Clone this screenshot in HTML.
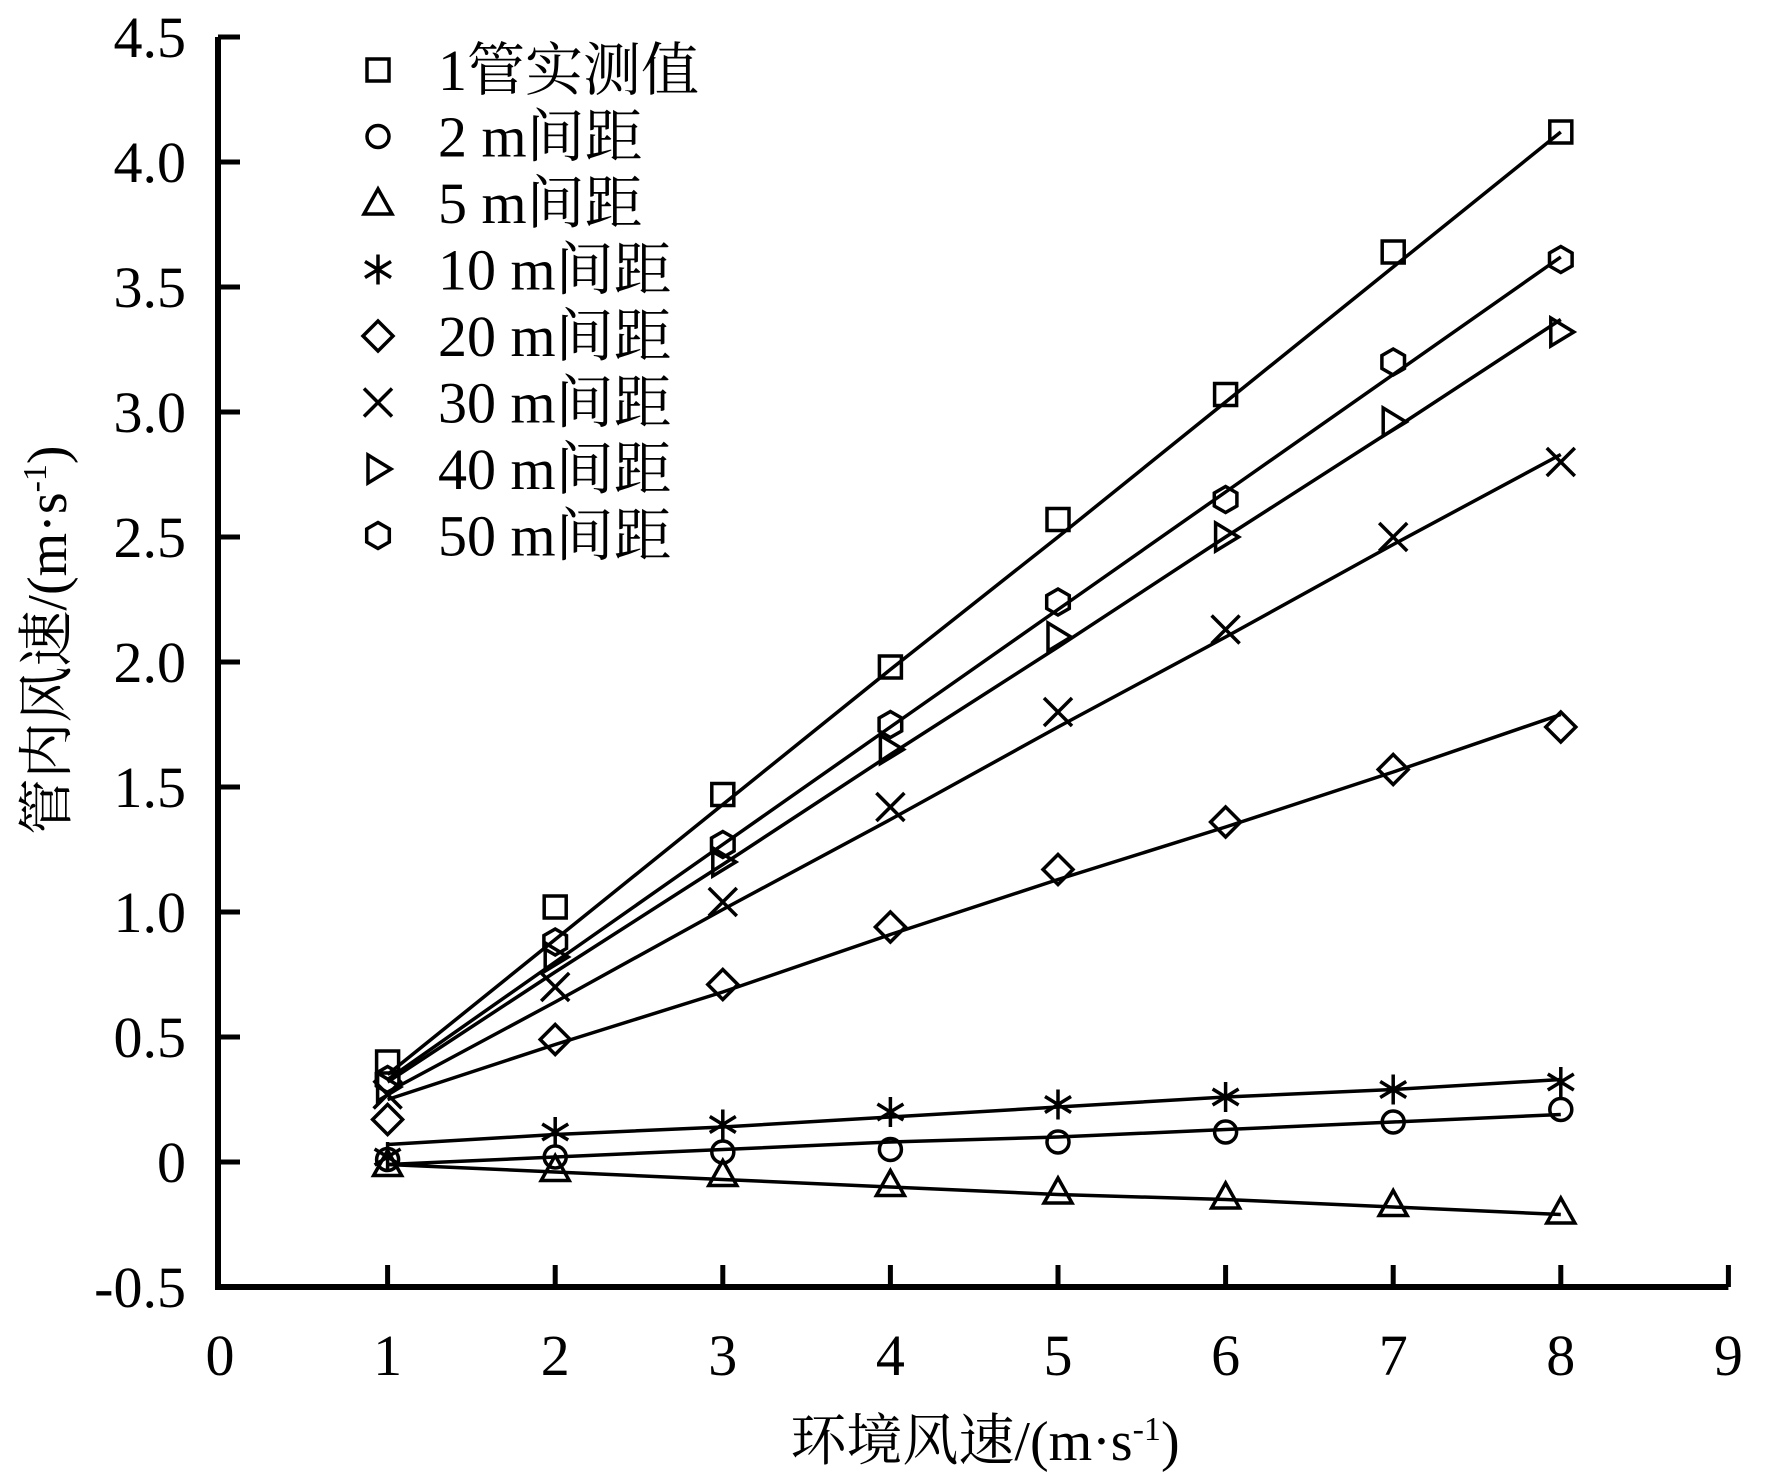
<!DOCTYPE html>
<html><head><meta charset="utf-8"><style>
html,body{margin:0;padding:0;background:#fff}
svg{display:block}
text{font-family:"Liberation Serif","Noto Serif CJK SC","Noto Sans CJK SC",serif;fill:#000}
</style></head><body>
<svg id="chart" width="1772" height="1477" viewBox="0 0 1772 1477" xmlns="http://www.w3.org/2000/svg">
<g id="axes"></g>
<g id="lines"></g>
<g id="marks"></g>
<g id="legend"></g>
<text x="0" y="0" font-size="56" text-anchor="middle" transform="translate(66,640) rotate(-90)">管内风速/(m·s<tspan font-size="34" dy="-20">-1</tspan><tspan dy="20">)</tspan></text>
<text x="985" y="1460" font-size="56" text-anchor="middle">环境风速/(m·s<tspan font-size="34" dy="-20">-1</tspan><tspan dy="20">)</tspan></text>
</svg>
<script>
const xCats=[1,2,3,4,5,6,7,8];
const xTicks=[0,1,2,3,4,5,6,7,8,9];
const yTicks=[-0.5,0,0.5,1.0,1.5,2.0,2.5,3.0,3.5,4.0,4.5];
const yTickLabels=["-0.5","0","0.5","1.0","1.5","2.0","2.5","3.0","3.5","4.0","4.5"];
const seriesNames=["1管实测值","2 m间距","5 m间距","10 m间距","20 m间距","30 m间距","40 m间距","50 m间距"];
const seriesMarkers=["square","circle","triangle","star","diamond","cross","tright","hexagon"];
const s1=[0.40,1.02,1.47,1.98,2.57,3.07,3.64,4.12];
const s2=[0.01,0.02,0.04,0.05,0.08,0.12,0.16,0.21];
const s5=[-0.01,-0.03,-0.05,-0.09,-0.12,-0.14,-0.17,-0.20];
const s10=[0.02,0.12,0.15,0.20,0.23,0.26,0.29,0.32];
const s20=[0.17,0.49,0.71,0.94,1.17,1.36,1.57,1.74];
const s30=[0.27,0.70,1.04,1.42,1.80,2.13,2.50,2.80];
const s40=[0.30,0.82,1.20,1.65,2.10,2.50,2.96,3.32];
const s50=[0.33,0.88,1.27,1.75,2.24,2.65,3.20,3.61];
const f1=[0.35,0.89,1.43,1.97,2.50,3.04,3.58,4.12];
const f2=[-0.01,0.02,0.05,0.08,0.10,0.13,0.16,0.19];
const f5=[-0.01,-0.04,-0.07,-0.10,-0.13,-0.15,-0.18,-0.21];
const f10=[0.07,0.11,0.14,0.18,0.22,0.26,0.29,0.33];
const f20=[0.25,0.47,0.68,0.91,1.13,1.34,1.56,1.79];
const f30=[0.28,0.64,1.01,1.37,1.74,2.10,2.47,2.83];
const f40=[0.32,0.76,1.19,1.63,2.06,2.50,2.93,3.37];
const f50=[0.33,0.80,1.27,1.74,2.21,2.68,3.15,3.62];
const seriesVals=[s1,s2,s5,s10,s20,s30,s40,s50];
const seriesFits=[f1,f2,f5,f10,f20,f30,f40,f50];

const NS="http://www.w3.org/2000/svg";
const X0=220, XU=167.6, Y0=1162, YU=250;
function sx(v){return X0+v*XU;}
function sy(v){return Y0-v*YU;}
function mk(tag,attrs,parent){const e=document.createElementNS(NS,tag);for(const k in attrs)e.setAttribute(k,attrs[k]);parent.appendChild(e);return e;}

const axes=document.getElementById('axes');
const yb=sy(-0.5), yt=sy(4.5), xl=218, xr=sx(9);
let e=mk('path',{d:`M${xl} ${yt} V${yb} H${xr}`,fill:'none',stroke:'#000','stroke-width':6},axes);


yTicks.forEach((v,i)=>{
  const t=mk('line',{x1:xl,x2:xl+22,y1:sy(v),y2:sy(v),stroke:'#000','stroke-width':5},axes);
  
  
  const l=mk('text',{x:186,y:sy(v)+20,'font-size':58,'text-anchor':'end'},axes);
  l.textContent=yTickLabels[i];
  
  
});
xTicks.forEach(v=>{
  if(v>0){const t=mk('line',{x1:sx(v),x2:sx(v),y1:yb,y2:yb-22,stroke:'#000','stroke-width':5},axes);
  
  }
  const l=mk('text',{x:sx(v),y:1375,'font-size':58,'text-anchor':'middle'},axes);
  l.textContent=String(v);
  
  
});

function marker(type,cx,cy,parent){
  const st={fill:'none',stroke:'#000','stroke-width':3.5};
  let m;const r=12;
  if(type==='square')m=mk('rect',Object.assign({x:cx-r+1,y:cy-r+1,width:2*r-2,height:2*r-2},st),parent);
  else if(type==='circle')m=mk('circle',Object.assign({cx:cx,cy:cy,r:r-1},st),parent);
  else if(type==='hexagon'){let p=[];for(let k=0;k<6;k++){const a=Math.PI/6+k*Math.PI/3;p.push((cx+13*Math.cos(a)).toFixed(1)+','+(cy+13*Math.sin(a)).toFixed(1));}m=mk('polygon',Object.assign({points:p.join(' ')},st),parent);}
  else if(type==='triangle')m=mk('polygon',Object.assign({points:`${cx},${cy-14} ${cx-14},${cy+11} ${cx+14},${cy+11}`},st),parent);
  else if(type==='tright')m=mk('polygon',Object.assign({points:`${cx-10},${cy-14} ${cx+13},${cy} ${cx-10},${cy+14}`},st),parent);
  else if(type==='diamond')m=mk('polygon',Object.assign({points:`${cx},${cy-15} ${cx+15},${cy} ${cx},${cy+15} ${cx-15},${cy}`},st),parent);
  else if(type==='cross')m=mk('path',Object.assign({d:`M${cx-14} ${cy-14}L${cx+14} ${cy+14}M${cx+14} ${cy-14}L${cx-14} ${cy+14}`},st),parent);
  else if(type==='star')m=mk('path',Object.assign({d:`M${cx} ${cy-15}V${cy+15}M${cx-13} ${cy-8}L${cx+13} ${cy+8}M${cx+13} ${cy-8}L${cx-13} ${cy+8}`},st),parent);
  return m;
}

const lines=document.getElementById('lines'), marks=document.getElementById('marks');
seriesVals.forEach((vals,si)=>{
  const pts=seriesFits[si].map((v,i)=>sx(xCats[i]).toFixed(1)+','+sy(v).toFixed(1)).join(' ');
  const pl=mk('polyline',{points:pts,fill:'none',stroke:'#000','stroke-width':3.5},lines);
  
  
  vals.forEach((v,i)=>{
    const m=marker(seriesMarkers[si],sx(xCats[i]),sy(v),marks);
    
    
  });
});

const legend=document.getElementById('legend');
seriesNames.forEach((n,i)=>{
  const cy=70+i*66.5;
  const m=marker(seriesMarkers[i],378,cy,legend);
  
  
  const t=mk('text',{x:438,y:cy+20,'font-size':58},legend);
  t.textContent=n;
  
  
});
</script>
</body></html>
